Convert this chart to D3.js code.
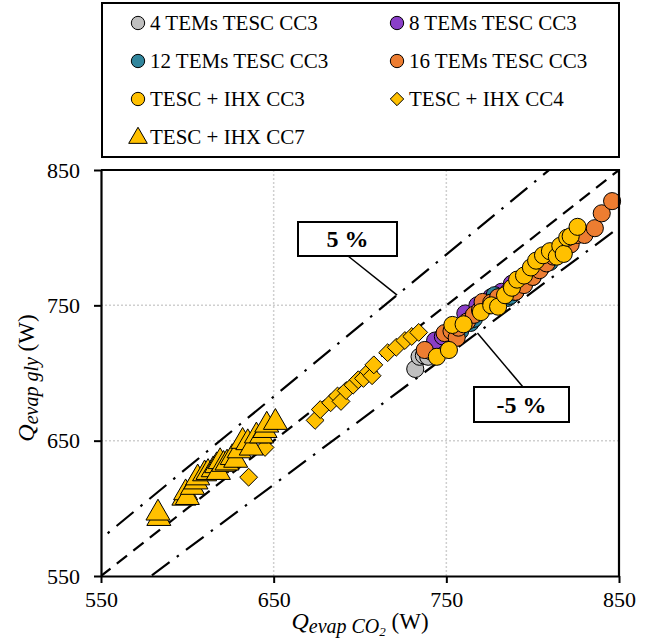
<!DOCTYPE html>
<html>
<head>
<meta charset="utf-8">
<script src="https://cdn.jsdelivr.net/npm/d3@7"></script>
<style>
  body { margin: 0; background: #fff; }
  svg text { font-family: "Liberation Serif", "Times New Roman", serif; }
</style>
</head>
<body>
<svg id="chart" width="651" height="642"></svg>
<script>
"use strict";

// series values: [Q evap CO2, Q evap gly] in W
var tems4 = [[732,703],[734.5,712],[737,713],[739.5,712],[741,716],[743,716],[745,719],[747,721]];
var tems8 = [[743.5,724],[748,727],[752,730],[756,733],[762,738],[761,744],[765,741],[768,750],[772,752],[776,756],[782,760],[788,766]];
var tems12 = [[758,731],[764,737],[766,740],[770,746],[775,750],[778,757.5],[785.5,755.5],[787,757],[790,760],[795,766],[800,771],[805,778],[810,782]];
var tems16 = [[737.5,717],[749,729.5],[753,731],[756,726],[757,733.5],[762,738],[766,743],[769.5,746.5],[771,752.5],[776,752],[780,756],[786,760],[790,760],[795,765],[800,771],[804,776],[808,781],[812,786],[815,788],[818,790],[822,795],[826,802],[830,802],[836,807],[840,818],[846,827]];
var ihxCC3 = [[744.5,712],[751.5,717],[753.5,735.5],[760,736],[770,745],[776,750],[780,749],[784,757.5],[788,763],[791,769],[795,772],[799,778],[802,783],[806,787],[810,790],[814,786],[816,794],[818,788],[820,800],[822,801],[826,808]];
var ihxCC4 = [[635.5,623],[645,645],[674,665],[677,673],[683,678],[687,683],[689,679],[692,687],[696,691],[699,695],[702,696],[705,701],[707,698],[708,706],[716,715],[721,719],[726,724],[730,727],[734,730]];
var ihxCC7 = [[583.5,591],[583,595],[598,606],[599,610],[600,606.5],[603,614],[605,618],[606,621],[610,624],[612,625],[615,627],[617,630],[618,625],[619,633],[621,631],[623,632],[626,636],[628,634],[630,641],[632,648],[635,647],[637,643],[640,652],[643,652],[645,656],[646,660],[651,662]];

var seriesNames = ["4 TEMs TESC CC3", "8 TEMs TESC CC3", "12 TEMs TESC CC3", "16 TEMs TESC CC3", "TESC + IHX CC3", "TESC + IHX CC4", "TESC + IHX CC7"];
var seriesColors = ["#BFBFBF", "#8A3FC8", "#31859C", "#ED7D31", "#FFC000", "#FFC000", "#FFC000"];
var seriesShapes = ["circle", "circle", "circle", "circle", "circle", "diamond", "triangle"];
var seriesData = [tems4, tems8, tems12, tems16, ihxCC3, ihxCC4, ihxCC7];

var tickValues = [550, 650, 750, 850];
var domain = [550, 850];

var svg = d3.select("#chart");
var plotLeft = 101, plotTop = 170, plotWidth = 518, plotHeight = 406;

var x = d3.scaleLinear().domain(domain).range([plotLeft, plotLeft + plotWidth]);
var y = d3.scaleLinear().domain(domain).range([plotTop + plotHeight, plotTop]);

//square diamond (d3's own diamond is too narrow)
var squareDiamond = {
	draw: function(ctx, size){
		var r = Math.sqrt(size / 2);
		ctx.moveTo(0, -r); ctx.lineTo(r, 0); ctx.lineTo(0, r); ctx.lineTo(-r, 0); ctx.closePath();
	}
};
var symbolTypes = {circle: d3.symbolCircle, diamond: squareDiamond, triangle: d3.symbolTriangle};
var markSizes = {circle: 230, diamond: 160, triangle: 250};
var legendSizes = {circle: 140, diamond: 90, triangle: 150};

//light dotted grid at the inner ticks
svg.append("g").selectAll("line")
	.data([650, 750])
	.enter()
	.append("line")
	.attr("x1", function(d){ return x(d); })
	.attr("x2", function(d){ return x(d); })
	.attr("y1", plotTop)
	.attr("y2", plotTop + plotHeight)
	.style("stroke", "#cfcfcf")
	.style("stroke-width", "1.5px")
	.style("stroke-dasharray", "2,2");
svg.append("g").selectAll("line")
	.data([650, 750])
	.enter()
	.append("line")
	.attr("y1", function(d){ return y(d); })
	.attr("y2", function(d){ return y(d); })
	.attr("x1", plotLeft)
	.attr("x2", plotLeft + plotWidth)
	.style("stroke", "#cfcfcf")
	.style("stroke-width", "1.5px")
	.style("stroke-dasharray", "2,2");

svg.append("clipPath").attr("id", "plotClip")
	.append("rect").attr("x", plotLeft).attr("y", plotTop).attr("width", plotWidth).attr("height", plotHeight);

//1:1 line and the +/-5 % lines
var refLines = [
	{k: 1, dash: "13,8"},
	{k: 1.05, dash: "22,9,2.5,9"},
	{k: 0.95, dash: "22,9,2.5,9"}
];
svg.append("g").attr("clip-path", "url(#plotClip)").selectAll("line")
	.data(refLines)
	.enter()
	.append("line")
	.attr("x1", x(540))
	.attr("y1", function(d){ return y(540 * d.k); })
	.attr("x2", x(860))
	.attr("y2", function(d){ return y(860 * d.k); })
	.style("stroke", "black")
	.style("stroke-width", "2.2px")
	.style("stroke-dasharray", function(d){ return d.dash; });

//markers, drawn series by series in legend order
var marks = svg.append("g");
seriesData.forEach(function(data, i){
	var shape = seriesShapes[i];
	marks.append("g").selectAll("path")
		.data(data)
		.enter()
		.append("path")
		.attr("d", d3.symbol().type(symbolTypes[shape]).size(markSizes[shape]))
		.attr("transform", function(d){
			var dy = shape == "triangle" ? -2 : 0;
			return "translate(" + x(d[0]) + "," + (y(d[1]) + dy) + ")";
		})
		.style("fill", seriesColors[i])
		.style("stroke", "black")
		.style("stroke-width", "1px");
});

//annotation boxes with leader lines
function callout(label, bx, by, bw, bh, ax, ay, px, py){
	svg.append("line")
		.attr("x1", ax).attr("y1", ay).attr("x2", px).attr("y2", py)
		.style("stroke", "black").style("stroke-width", "1.5px");
	svg.append("rect")
		.attr("x", bx).attr("y", by).attr("width", bw).attr("height", bh)
		.style("fill", "white").style("stroke", "black").style("stroke-width", "2px");
	svg.append("text")
		.attr("x", bx + bw/2).attr("y", by + bh/2 + 8)
		.attr("text-anchor", "middle")
		.style("font-size", "24px").style("font-weight", "bold")
		.text(label);
}
var upX = 721.5, loX = 768;
callout("5 %", 298, 222, 99, 34, 348, 256, x(upX), y(upX * 1.05));
callout("-5 %", 474, 387, 95, 35, 523, 387, x(loX), y(loX * 0.95));

//axes
var xAxis = svg.append("g")
	.attr("transform", "translate(0," + (plotTop + plotHeight) + ")")
	.call(d3.axisBottom(x).tickValues(tickValues).tickSize(7).tickSizeOuter(0).tickPadding(8));
var yAxis = svg.append("g")
	.attr("transform", "translate(" + plotLeft + ",0)")
	.call(d3.axisLeft(y).tickValues(tickValues).tickSize(7).tickSizeOuter(0).tickPadding(14));
[xAxis, yAxis].forEach(function(a){
	a.select(".domain").style("stroke", "black").style("stroke-width", "2.2px");
	a.selectAll(".tick line").style("stroke", "black").style("stroke-width", "2px");
	a.selectAll(".tick text").style("font-size", "22px").style("fill", "black")
		.style("font-family", "'Liberation Serif', serif");
});
//top and right frame
svg.append("path")
	.attr("d", "M" + plotLeft + "," + plotTop + "H" + (plotLeft + plotWidth) + "V" + (plotTop + plotHeight))
	.style("fill", "none").style("stroke", "black").style("stroke-width", "2.2px");

//axis titles
var xt = svg.append("text")
	.attr("x", 360).attr("y", 629)
	.attr("text-anchor", "middle")
	.style("font-size", "23px");
xt.append("tspan").style("font-style", "italic").style("font-size", "24px").text("Q");
xt.append("tspan").style("font-style", "italic").style("font-size", "20px").attr("dy", 4).text("evap CO");
xt.append("tspan").style("font-style", "italic").style("font-size", "13px").attr("dy", 3).text("2");
xt.append("tspan").attr("dy", -7).text(" (W)");

var yt = svg.append("text")
	.attr("transform", "translate(34,378) rotate(-90)")
	.attr("text-anchor", "middle")
	.style("font-size", "23px");
yt.append("tspan").style("font-style", "italic").style("font-size", "24px").text("Q");
yt.append("tspan").style("font-style", "italic").style("font-size", "20px").attr("dy", 4).text("evap gly");
yt.append("tspan").attr("dy", -4).text(" (W)");

//legend
svg.append("rect")
	.attr("x", 102).attr("y", 3).attr("width", 517).attr("height", 154)
	.style("fill", "white").style("stroke", "black").style("stroke-width", "2px");
var legendItems = seriesNames.map(function(name, i){
	return {name: name, color: seriesColors[i], shape: seriesShapes[i], col: i % 2, row: Math.floor(i / 2)};
});
var legend = svg.append("g").selectAll("g")
	.data(legendItems)
	.enter()
	.append("g")
	.attr("transform", function(d){ return "translate(" + (d.col ? 397 : 138) + "," + (23 + d.row * 38) + ")"; });
legend.append("path")
	.attr("d", function(d){ return d3.symbol().type(symbolTypes[d.shape]).size(legendSizes[d.shape])(); })
	.attr("transform", function(d){ return d.shape == "triangle" ? "translate(0,1)" : null; })
	.style("fill", function(d){ return d.color; })
	.style("stroke", "black")
	.style("stroke-width", "1px");
legend.append("text")
	.attr("x", 12)
	.attr("y", 7)
	.style("font-size", "21px")
	.text(function(d){ return d.name; });
</script>
</body>
</html>
